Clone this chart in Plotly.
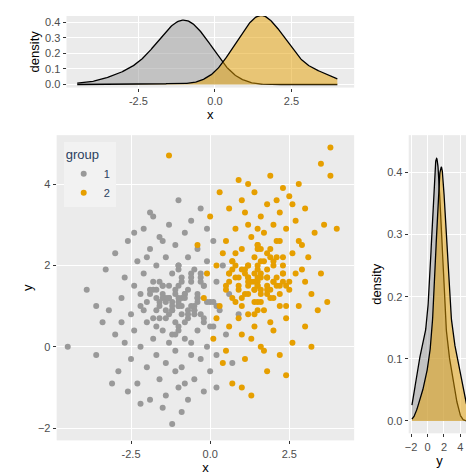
import numpy as np
import plotly.graph_objects as go

g1x = [-4.5,-3.9,-3.6,-3.4,-3.3,-3.2,-3.0,-3.0,-2.9,-2.8,-2.7,-2.7,-2.6,-2.5,-2.5,-2.4,-2.4,-2.3,-2.3,-2.2,-2.2,-2.1,-2.1,-2.0,-2.0,-1.9,-1.9,-1.9,-1.8,-1.8,-1.8,-1.7,-1.7,-1.7,-1.6,-1.6,-1.6,-1.5,-1.5,-1.5,-1.4,-1.4,-1.4,-1.3,-1.3,-1.3,-1.2,-1.2,-1.2,-1.1,-1.1,-1.1,-1.0,-1.0,-1.0,-1.0,-0.9,-0.9,-0.9,-0.8,-0.8,-0.8,-0.7,-0.7,-0.7,-0.6,-0.6,-0.6,-0.5,-0.5,-0.5,-0.4,-0.4,-0.4,-0.3,-0.3,-0.3,-0.2,-0.2,-0.2,-0.1,-0.1,0.0,0.0,0.1,0.1,0.2,0.2,0.3,0.4,0.5,0.6,0.7,0.9,-2.6,-3.1,-1.9,-0.9,-1.4,-2.0,-1.2,-0.6,-1.7,-2.8,-0.3,-1.5,-0.8,-2.2,-1.1,0.2,-3.6,-0.1,-2.4,
       -1.0,-0.7,-1.3,-0.4,-1.6,-0.9,-1.1,-0.5,-1.5,-0.2,-1.8,-1.0,-0.6,-1.4,0.0,-2.0,-0.8,-1.2,-0.3,-1.7,-1.0,-0.5,-1.5,-0.7,-1.3,0.1,-2.1,-1.0,-0.9,-1.1,-0.4,-1.6,-0.6,-1.4,-0.2,-1.8,-1.0,-0.5,-1.5,-0.8,-1.2,0.2,-2.2,-1.0,-0.7,-1.3,-0.3,-1.7,-0.1,-1.9,-1.0,-0.9,-1.1,-0.6,-1.4,-0.8,-1.2,-1.0,-0.4,-1.6]
g1y = [0.0,1.4,-0.2,0.6,1.9,0.9,2.3,0.3,-0.6,1.2,1.7,0.1,2.6,0.8,-0.3,1.5,0.4,2.1,-0.9,1.0,0.0,1.8,2.9,0.6,-0.5,1.3,2.4,-1.3,0.2,1.6,3.2,0.9,-0.2,2.0,1.1,-0.8,2.7,0.4,1.5,-1.5,2.2,0.7,-0.4,1.2,3.0,0.1,1.8,-1.9,0.9,2.5,-0.1,1.4,0.5,2.0,-1.0,3.6,1.0,-0.5,1.7,0.2,2.8,1.3,-1.3,0.7,2.2,1.6,-0.2,3.1,0.9,1.9,-0.8,0.4,2.4,1.2,-0.3,1.8,3.4,0.6,-1.1,1.5,2.1,0.0,1.1,-0.6,2.6,0.5,1.6,-0.2,0.9,2.0,0.3,1.3,-0.4,0.8,-1.1,-0.9,3.3,-1.6,-1.2,2.2,0.3,0.1,1.2,0.6,0.8,2.6,-0.9,-1.4,-0.6,-1.0,1.0,2.9,2.8,
       1.1,1.4,0.8,1.2,1.0,1.6,0.6,0.9,1.3,1.5,0.7,1.0,1.8,1.2,0.5,1.1,1.3,0.9,1.7,1.4,0.4,1.0,1.2,0.8,1.5,1.1,0.9,1.9,1.2,0.3,1.3,1.6,1.0,1.1,0.7,1.4,1.2,0.8,1.5,0.6,1.1,1.0,1.3,2.0,0.9,1.2,1.6,0.5,1.1,1.4,1.0,0.8,1.3,1.7,0.9,1.2,1.0,1.5,1.1,0.7]
g2x = [-1.3,-0.4,-0.2,0.0,0.1,0.2,0.3,0.3,0.4,0.5,0.5,0.6,0.6,0.7,0.7,0.8,0.8,0.9,0.9,1.0,1.0,1.0,1.1,1.1,1.2,1.2,1.2,1.3,1.3,1.3,1.4,1.4,1.4,1.5,1.5,1.5,1.6,1.6,1.6,1.7,1.7,1.7,1.8,1.8,1.8,1.9,1.9,1.9,2.0,2.0,2.0,2.1,2.1,2.2,2.2,2.2,2.3,2.3,2.4,2.4,2.5,2.5,2.6,2.6,2.7,2.7,2.8,2.8,2.9,3.0,3.0,3.1,3.2,3.3,3.4,3.5,3.5,3.6,3.8,3.8,4.0,3.7,1.0,0.4,1.2,2.3,0.6,1.6,2.0,1.4,0.9,2.9,2.4,1.1,0.2,1.7,3.2,2.6,0.8,1.9,2.1,1.3,3.0,-0.1,0.5,2.8,1.5,2.2,
       1.5,1.8,1.2,2.1,0.9,1.6,1.4,1.9,1.1,2.3,0.7,1.5,1.8,1.2,2.4,0.6,1.6,1.4,1.9,1.1,1.5,2.2,0.8,1.8,1.2,2.5,0.5,1.5,1.6,1.4,2.3,0.7,1.8,1.2,2.0,1.0,1.5,2.2,0.8,1.6,1.4,2.4,0.6,1.5,1.8,1.2,2.0,1.0,2.3,0.7,1.5,1.6,1.4,2.1,0.9,1.8,1.2,1.5,2.0,1.0]
g2y = [4.7,2.5,1.2,3.2,0.2,2.0,3.8,1.0,-0.4,2.6,1.5,3.4,0.5,2.1,-0.9,1.1,2.9,4.1,1.7,0.3,2.4,3.6,1.3,-0.3,2.0,3.0,0.8,1.6,2.7,-1.2,2.2,0.5,3.8,1.1,2.5,1.9,3.2,0.0,1.4,2.8,2.1,0.9,3.5,1.7,-0.6,2.4,1.2,4.2,2.0,0.4,3.0,1.5,2.6,1.0,3.3,-0.2,2.2,1.8,0.7,2.9,1.4,3.7,2.3,0.1,1.8,3.1,1.0,2.6,1.9,0.5,3.4,2.2,1.3,2.8,0.9,4.5,1.8,3.0,4.2,4.9,2.9,1.1,-1.0,2.3,4.0,3.9,1.8,2.4,1.6,1.4,0.7,2.5,-0.7,3.3,0.7,-0.1,0.0,3.5,2.3,0.6,3.6,0.2,1.6,1.8,-0.1,4.0,2.9,2.6,
       1.6,1.9,1.3,1.7,1.5,2.1,1.1,1.4,1.8,2.0,1.2,1.5,2.3,1.7,1.0,1.6,1.8,1.4,2.2,1.9,0.9,1.5,1.7,1.3,2.0,1.6,1.4,2.4,1.7,0.8,1.8,2.1,1.5,1.6,1.2,1.9,1.7,1.3,2.0,1.1,1.6,1.5,1.8,2.5,1.4,1.7,2.1,1.0,1.6,1.9,1.5,1.3,1.8,2.2,1.4,1.7,1.5,2.0,1.6,1.2]

groups = ["1", "2"]
colors = ["#999999", "#E69F00"]
fills = ["rgba(153,153,153,0.5)", "rgba(230,159,0,0.5)"]


def kde(v, grid):
    v = np.asarray(v)
    bw = 1.06 * v.std(ddof=1) * len(v) ** -0.2
    z = (grid[:, None] - v[None, :]) / bw
    return np.exp(-0.5 * z ** 2).sum(1) / (len(v) * bw * np.sqrt(2 * np.pi))


fig = go.Figure()
xs = [g1x, g2x]
ys = [g1y, g2y]
gx = np.linspace(min(g1x + g2x), max(g1x + g2x), 300)
gy = np.linspace(min(g1y + g2y), max(g1y + g2y), 300)
for i in range(2):
    fig.add_trace(go.Scatter(x=xs[i], y=ys[i], mode="markers", name=groups[i],
                             marker=dict(color=colors[i], size=6), xaxis="x", yaxis="y"))
for i in range(2):
    fig.add_trace(go.Scatter(x=gx, y=kde(xs[i], gx), fill="tozeroy", fillcolor=fills[i],
                             line=dict(color="black", width=1.3), showlegend=False,
                             xaxis="x2", yaxis="y2"))
    fig.add_trace(go.Scatter(x=gy, y=kde(ys[i], gy), fill="tozeroy", fillcolor=fills[i],
                             line=dict(color="black", width=1.3), showlegend=False,
                             xaxis="x3", yaxis="y3"))

ax = dict(showgrid=True, gridcolor="white", zeroline=False, ticks="outside", ticklen=3,
          tickcolor="#333333", tickfont=dict(size=11, color="#4D4D4D"),
          title_font=dict(size=13, color="black"), title_standoff=2)
fig.update_layout(
    width=474, height=474, margin=dict(l=0, r=0, t=0, b=0),
    paper_bgcolor="white", plot_bgcolor="#EBEBEB",
    font=dict(family="Liberation Sans, Arial"),
    xaxis=dict(ax, domain=[0.095, 0.728], range=[-4.85, 4.55], tickvals=[-2.5, 0, 2.5],
               ticktext=["-2.5", "0.0", "2.5"], title_text="x"),
    yaxis=dict(ax, domain=[0.082, 0.730], range=[-2.3, 5.2], tickvals=[-2, 0, 2, 4], title_text="y"),
    xaxis2=dict(ax, domain=[0.116, 0.728], range=[-4.85, 4.55], tickvals=[-2.5, 0, 2.5],
                ticktext=["-2.5", "0.0", "2.5"], title_text="x", anchor="y2"),
    yaxis2=dict(ax, domain=[0.831, 0.983], range=[-0.02, 0.44], tickvals=[0, 0.1, 0.2, 0.3, 0.4],
                tickformat=".1f", title_text="density", anchor="x2"),
    xaxis3=dict(ax, domain=[0.844, 0.975], range=[-2.3, 5.2], tickvals=[-2, 0, 2, 4],
                title_text="y", anchor="y3"),
    yaxis3=dict(ax, domain=[0.097, 0.730], range=[-0.02, 0.46], tickvals=[0, 0.1, 0.2, 0.3, 0.4],
                tickformat=".1f", title_text="density", anchor="x3"),
    legend=dict(x=0.11, y=0.715, xanchor="left", yanchor="top", bgcolor="#F2F2F2",
                title=dict(text="group", font=dict(size=13)), font=dict(size=11)),
)
fig.write_html("out.html")
